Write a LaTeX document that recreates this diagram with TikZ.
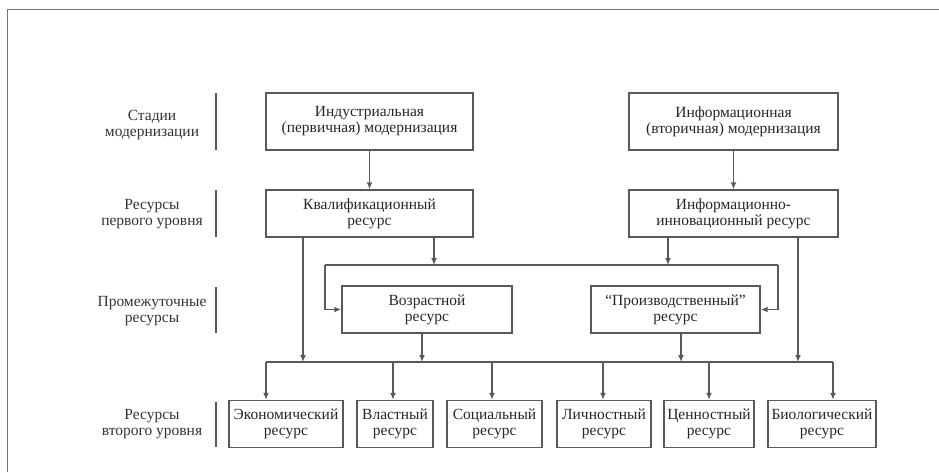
\documentclass[tikz,border=0pt]{standalone}
\usepackage{fontspec}
\setmainfont{Liberation Serif}
\usetikzlibrary{arrows.meta}
\tikzset{
  box/.style={draw=black!65, line width=1.4pt, align=center, inner sep=0pt,
    minimum height=47pt, text=black!85, font=\fontsize{15.5}{16}\selectfont},
  lbl/.style={align=center, text=black!80, font=\fontsize{15.5}{16}\selectfont},
  bar/.style={draw=black!65, line width=2.2pt},
  link/.style={draw=black!65, line width=1.4pt},
  arr/.style={link, -{Latex[length=7pt,width=6pt]}}
}
\begin{document}
\begin{tikzpicture}[x=1pt, y=-1pt]
  \useasboundingbox (0,0) rectangle (939,472);
  \draw[black!55, line width=1pt] (7,472) -- (7,9) -- (939,9);

  \node[lbl] (st)  at (152,125) {Стадии\\модернизации};
  \node[lbl] (r1)  at (152,214) {Ресурсы\\первого уровня};
  \node[lbl] (pr)  at (152,311) {Промежуточные\\ресурсы};
  \node[lbl] (r2)  at (152,424) {Ресурсы\\второго уровня};
  \draw[bar] (216,93) -- (216,150);
  \draw[bar] (216,190) -- (216,237);
  \draw[bar] (216,287) -- (216,333);
  \draw[bar] (216,402) -- (216,447);

  \node[box, minimum width=207pt, minimum height=57pt] (ind) at (369.5,121.5) {Индустриальная\\(первичная) модернизация};
  \node[box, minimum width=209pt, minimum height=57pt] (inf) at (733.5,121.5) {Информационная\\(вторичная) модернизация};
  \node[box, minimum width=207pt] (kval) at (369.5,213.5) {Квалификационный\\ресурс};
  \node[box, minimum width=209pt] (inn)  at (733.5,213.5) {Информационно-\\инновационный ресурс};
  \node[box, minimum width=170pt] (age)  at (427,309.5) {Возрастной\\ресурс};
  \node[box, minimum width=169pt] (prod) at (675.5,309.5) {``Производственный''\\ресурс};

  \node[box, minimum width=114pt] (eco)  at (286,424) {Экономический\\ресурс};
  \node[box, minimum width=76pt]  (vl)   at (395,424) {Властный\\ресурс};
  \node[box, minimum width=95pt]  (soc)  at (494.5,424) {Социальный\\ресурс};
  \node[box, minimum width=94pt]  (lich) at (604,424) {Личностный\\ресурс};
  \node[box, minimum width=90pt]  (cen)  at (709,424) {Ценностный\\ресурс};
  \node[box, minimum width=108pt] (bio)  at (822,424) {Биологический\\ресурс};

  \coordinate (tl) at (325,265);
  \coordinate (tr) at (778,265);
  \coordinate (bl) at (266,362);
  \coordinate (br) at (833,362);

  \draw[arr] (ind) -- (kval);
  \draw[arr] (inf) -- (inn);
  \draw[arr] (kval.south -| 434,0) -- (434,265);
  \draw[arr] (inn.south -| 668,0) -- (668,265);
  \draw[arr] (kval.south -| 303,0) -- (303,362);
  \draw[arr] (inn.south -| 798,0) -- (798,362);
  \draw[link] (tl) -- (tr);
  \draw[arr] (tl) |- (age.west);
  \draw[arr] (tr) |- (prod.east);
  \draw[arr] (age.south -| 422,0) -- (422,362);
  \draw[arr] (prod.south -| 681,0) -- (681,362);
  \draw[link] (bl) -- (br);
  \draw[arr] (bl) -- (eco.north -| bl);
  \draw[arr] (393,362) -- (vl.north -| 393,0);
  \draw[arr] (492,362) -- (soc.north -| 492,0);
  \draw[arr] (603,362) -- (lich.north -| 603,0);
  \draw[arr] (709,362) -- (cen.north);
  \draw[arr] (br) -- (bio.north -| br);
\end{tikzpicture}
\end{document}
